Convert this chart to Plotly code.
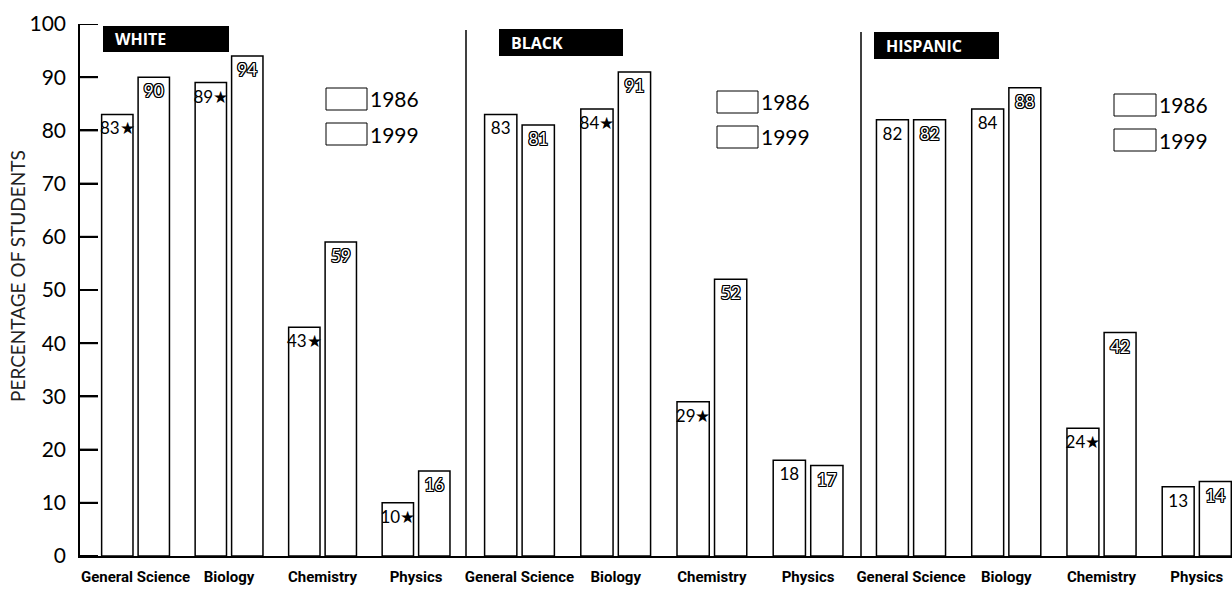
import plotly.graph_objects as go

# ---------------- data ----------------
subjects = ["General Science", "Biology", "Chemistry", "Physics"]
groups = ["WHITE", "BLACK", "HISPANIC"]
years = ["1986", "1999"]

white_1986 = [83, 89, 43, 10]
white_1999 = [90, 94, 59, 16]
black_1986 = [83, 84, 29, 18]
black_1999 = [81, 91, 52, 17]
hispanic_1986 = [82, 84, 24, 13]
hispanic_1999 = [82, 88, 42, 14]

# star marks on the 1986 values
white_star = [True, True, True, True]
black_star = [False, True, True, False]
hispanic_star = [False, False, True, False]

y_ticks = list(range(0, 101, 10))

# ---------------- layout helpers (pixel -> paper) ----------------
W, H = 1232, 594
L, R, T, B = 80, 0, 24, 38
PW, PH = W - L - R, H - T - B


def px(x):
    return (x - L) / PW


def py(y):
    return (H - B - y) / PH


panel_edges = [80, 466, 861, 1232]
panel_ranges = [[-0.594, 3.534], [-0.556, 3.55], [-0.525, 3.37]]
header_boxes = [(103, 229, 26, 52), (499, 623, 29, 56), (874, 999, 32, 59)]
legend_boxes = [(326, 367, 88, 123), (717, 758, 91, 126), (1114, 1156, 94, 129)]

NUM_FONT = "Lato, 'Open Sans', sans-serif"
NARROW_FONT = "Roboto, 'Liberation Sans', sans-serif"

series = [
    (white_1986, white_1999, white_star),
    (black_1986, black_1999, black_star),
    (hispanic_1986, hispanic_1999, hispanic_star),
]

fig = go.Figure()
outline = ("1px 0 0 #000, -1px 0 0 #000, 0 1px 0 #000, 0 -1px 0 #000, "
           "1px 1px 0 #000, -1px -1px 0 #000, 1px -1px 0 #000, -1px 1px 0 #000")

for i, (v86, v99, stars) in enumerate(series):
    xa = "x" if i == 0 else f"x{i+1}"
    t86 = [f"{v}★" if s else f"{v}" for v, s in zip(v86, stars)]
    t99 = [f"{v}" for v in v99]
    fig.add_trace(go.Bar(
        x=subjects, y=v86, name=years[0], xaxis=xa, yaxis="y",
        marker=dict(color="white", line=dict(color="black", width=1.5)),
        text=t86, textposition="inside", insidetextanchor="end",
        textangle=0, constraintext="none",
        textfont=dict(family=NUM_FONT, size=17, color="black"),
        showlegend=False, hoverinfo="skip",
    ))
    fig.add_trace(go.Bar(
        x=subjects, y=v99, name=years[1], xaxis=xa, yaxis="y",
        marker=dict(color="white", line=dict(color="black", width=1.5)),
        text=t99, textposition="inside", insidetextanchor="end",
        textangle=0, constraintext="none",
        textfont=dict(family=NUM_FONT, size=17, color="white", shadow=outline),
        showlegend=False, hoverinfo="skip",
    ))

shapes = []
annotations = []

# inner tick marks on the value axis (one per tick value)
for v in y_ticks:
    shapes.append(dict(type="line", xref="x domain", yref="y", layer="above",
                       x0=0, x1=18 / (panel_edges[1] - panel_edges[0]), y0=v, y1=v,
                       line=dict(color="black", width=2)))

for i in range(3):
    key = "xaxis" if i == 0 else f"xaxis{i+1}"
    fig.update_layout(**{key: dict(
        domain=[px(panel_edges[i]), px(panel_edges[i + 1])],
        anchor="y", type="category", range=panel_ranges[i],
        showline=True, linecolor="black", linewidth=1.5,
        ticks="", showgrid=False, zeroline=False, tickangle=0,
        automargin=False,
        tickfont=dict(family=NARROW_FONT, size=15, color="black", weight="bold"),
        ticklabelstandoff=6,
    )})

    # panel header
    x0, x1, y0, y1 = header_boxes[i]
    shapes.append(dict(type="rect", xref="paper", yref="paper",
                       x0=px(x0), x1=px(x1), y0=py(y1), y1=py(y0),
                       fillcolor="black", line=dict(width=0)))
    annotations.append(dict(xref="paper", yref="paper", x=px(x0 + 10), y=py((y0 + y1) / 2),
                            xanchor="left", yanchor="middle", showarrow=False,
                            text=groups[i],
                            font=dict(family="'Open Sans', sans-serif", size=16,
                                      color="white", weight="bold")))

    # legend boxes
    lx0, lx1, ly_a, ly_b = legend_boxes[i]
    for yr, ly in zip(years, [ly_a, ly_b]):
        shapes.append(dict(type="rect", xref="paper", yref="paper",
                           x0=px(lx0), x1=px(lx1), y0=py(ly + 22), y1=py(ly),
                           fillcolor="white", line=dict(color="black", width=1)))
        annotations.append(dict(xref="paper", yref="paper", x=px(lx1 + 1), y=py(ly + 11),
                                xanchor="left", yanchor="middle", showarrow=False,
                                text=yr, font=dict(family=NUM_FONT, size=21, color="black")))

    # panel separators
    if i > 0:
        shapes.append(dict(type="line", xref="paper", yref="paper",
                           x0=px(panel_edges[i]), x1=px(panel_edges[i]),
                           y0=0, y1=py(30 + (i - 1) * 2),
                           line=dict(color="black", width=1.5)))

annotations.append(dict(xref="paper", yref="paper", x=px(17), y=py(276),
                        xanchor="center", yanchor="middle", showarrow=False,
                        textangle=-90, text="PERCENTAGE OF STUDENTS",
                        font=dict(family=NUM_FONT, size=19, color="#222")))

fig.update_layout(
    width=W, height=H,
    margin=dict(l=L, r=R, t=T, b=B, autoexpand=False),
    paper_bgcolor="white", plot_bgcolor="white",
    barmode="group", bargap=0.22, bargroupgap=0.14,
    yaxis=dict(
        domain=[0, 1], range=[0, 100], tickvals=y_ticks,
        showline=True, linecolor="black", linewidth=1.5,
        ticks="inside", ticklen=18, tickwidth=2, tickcolor="black",
        showgrid=False, zeroline=False, ticklabelstandoff=8,
        automargin=False,
        tickfont=dict(family=NUM_FONT, size=21, color="black"),
    ),
    shapes=shapes,
    annotations=annotations,
    showlegend=False,
)

fig.write_html(
    "out.html",
    config={"displayModeBar": False},
    post_script="document.body.style.margin='0';document.body.style.overflow='hidden';",
)
